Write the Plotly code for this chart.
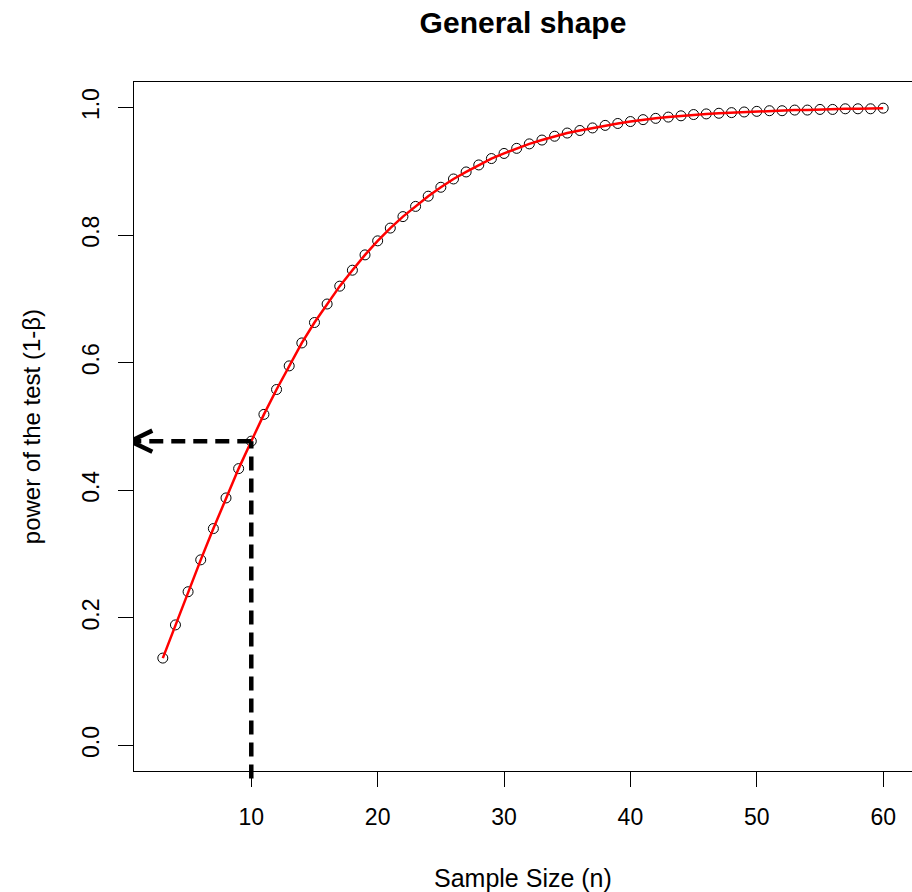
import plotly.graph_objects as go

# ---- data ----
sample_size = list(range(3, 61))
power = [0.137, 0.189, 0.241, 0.291, 0.340, 0.388, 0.434, 0.477, 0.519, 0.558,
         0.595, 0.631, 0.663, 0.692, 0.720, 0.745, 0.769, 0.791, 0.811, 0.829,
         0.845, 0.861, 0.875, 0.888, 0.899, 0.910, 0.920, 0.928, 0.936, 0.943,
         0.949, 0.955, 0.960, 0.964, 0.968, 0.972, 0.975, 0.978, 0.981, 0.983,
         0.985, 0.987, 0.989, 0.990, 0.991, 0.992, 0.993, 0.994, 0.995, 0.995,
         0.996, 0.996, 0.997, 0.997, 0.998, 0.998, 0.998, 0.999]
x_ticks = [10, 20, 30, 40, 50, 60]
y_ticks = [0.0, 0.2, 0.4, 0.6, 0.8, 1.0]
marked_n = 10
marked_power = power[sample_size.index(marked_n)]

title_text = "<b>General shape</b>"
x_title = "Sample Size (n)"
y_title = "power of the test (1-β)"

# R-style axis ranges (4% extension)
xspan = max(sample_size) - min(sample_size)
x_range = [min(sample_size) - 0.04 * xspan, max(sample_size) + 0.04 * xspan]
y_range = [0 - 0.04, 1 + 0.04]


def to_paper_y(v):
    return (v - y_range[0]) / (y_range[1] - y_range[0])


FONT = "Liberation Sans, Arial, sans-serif"

fig = go.Figure()
fig.add_trace(go.Scatter(x=sample_size, y=power, mode="markers",
                         marker=dict(symbol="circle-open", size=10,
                                     color="black", line=dict(width=1, color="black")),
                         showlegend=False, hoverinfo="skip"))
fig.add_trace(go.Scatter(x=sample_size, y=power, mode="lines",
                         line=dict(color="#ff0000", width=2.5),
                         showlegend=False, hoverinfo="skip"))

dash = "14px,8px"
LW = 4.5
# vertical dashed line (extends slightly below the box)
fig.add_shape(type="line", xref="x", yref="paper",
              x0=marked_n, x1=marked_n, y0=-0.011, y1=to_paper_y(marked_power),
              line=dict(color="black", width=LW, dash=dash), layer="above")
# horizontal dashed arrow to the left
tip_x = x_range[0] - 0.3
fig.add_shape(type="line", xref="x", yref="paper",
              x0=marked_n, x1=tip_x + 0.2, y0=to_paper_y(marked_power), y1=to_paper_y(marked_power),
              line=dict(color="black", width=LW, dash=dash), layer="above")
head_dx = 1.75
head_dy = 0.0165
for s in (1, -1):
    fig.add_shape(type="line", xref="x", yref="paper",
                  x0=tip_x, x1=tip_x + head_dx,
                  y0=to_paper_y(marked_power), y1=to_paper_y(marked_power + s * head_dy),
                  line=dict(color="black", width=LW), layer="above")

fig.add_annotation(text=x_title, xref="paper", yref="paper", x=0.5, y=-0.155,
                   showarrow=False, yanchor="middle", xanchor="center",
                   font=dict(family=FONT, size=25, color="black"))
fig.add_annotation(text=y_title, xref="paper", yref="paper", x=-0.1315, y=0.5,
                   showarrow=False, textangle=-90, xanchor="center", yanchor="middle",
                   font=dict(family=FONT, size=24, color="black"))

fig.update_layout(
    width=912, height=892,
    margin=dict(l=134, r=0, t=82, b=121),
    paper_bgcolor="white", plot_bgcolor="white",
    title=dict(text=title_text, x=0.5, xref="paper", xanchor="center",
               y=1 - 22 / 892, yref="container", yanchor="middle",
               font=dict(family=FONT, size=30, color="black")),
    font=dict(family=FONT, color="black"),
    xaxis=dict(range=x_range, tickvals=x_ticks, ticktext=[str(v) for v in x_ticks],
               showgrid=False, zeroline=False, showline=True, mirror=True,
               linecolor="black", linewidth=1, ticks="outside", ticklen=15,
               tickcolor="black", tickwidth=1, tickfont=dict(size=23, family=FONT),
               ticklabelstandoff=10),
    yaxis=dict(range=y_range, tickvals=y_ticks, ticktext=[f"{v:.1f}" for v in y_ticks],
               showgrid=False, zeroline=False, showline=True, mirror=True,
               linecolor="black", linewidth=1, ticks="outside", ticklen=15,
               tickcolor="black", tickwidth=1, tickfont=dict(size=23, family=FONT),
               tickangle=-90, ticklabelstandoff=10),
)

fig.write_html("out.html")
